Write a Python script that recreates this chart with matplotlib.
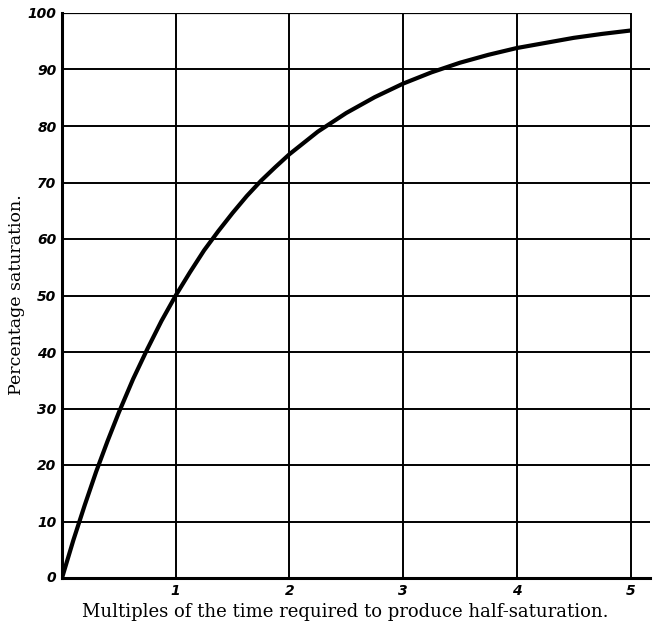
# Кривая насыщения
import matplotlib.pyplot as plt

# значения
x = [0, 0.1, 0.2, 0.3, 0.4, 0.5, 0.625, 0.75, 0.875, 1, 1.125, 1.25, 1.375, 1.5, 1.625, 1.75,
     1.875, 2, 2.25, 2.5, 2.75, 3, 3.25, 3.5, 3.75, 4, 4.25, 4.5, 4.75, 5]
y = [0, 6.7, 12.9, 18.8, 24.2, 29.3, 35.2, 40.5, 45.5, 50, 54.1, 58, 61.4, 64.6, 67.6, 70.3,
     72.7, 75, 79, 82.3, 85.1, 87.5, 89.5, 91.2, 92.6, 93.8, 94.7, 95.6, 96.3, 96.9]
xticks = [1, 2, 3, 4, 5]
yticks = [0, 10, 20, 30, 40, 50, 60, 70, 80, 90, 100]

fig = plt.figure(figsize=(6.53, 6.29), dpi=100)
ax = fig.add_axes([62/653, 51/629, 588/653, 565/629])
ax.set_xlim(0, 588/113.7)
ax.set_ylim(0, 100)

# сетка
for v in yticks[1:-1]:
    ax.axhline(v, color='black', lw=1.4, zorder=1)
ax.hlines(100, 0, 5, color='black', lw=1.6, zorder=1)
for v in xticks:
    ax.vlines(v, 0, 100, color='black', lw=1.4, zorder=1)

ax.plot(x, y, color='black', lw=3, solid_capstyle='butt', solid_joinstyle='round', zorder=3)

for s in ['top', 'right']:
    ax.spines[s].set_visible(False)
ax.spines['left'].set_linewidth(2.2)
ax.spines['bottom'].set_linewidth(2.2)

ax.set_xticks(xticks)
ax.set_yticks(yticks)
ax.tick_params(length=0, pad=4)
tf = dict(family='DejaVu Sans', weight='bold', style='italic', size=10)
ax.set_xticklabels([str(t) for t in xticks], **tf)
# ноль в углу
ax.set_yticklabels([''] + [str(t) for t in yticks[1:]], **tf)
ax.text(-0.05, 0, '0', ha='right', va='center', **tf)

fig.text(345/653, 1 - 612/629, 'Multiples of the time required to produce half-saturation.',
         family='DejaVu Serif', size=13, ha='center', va='center')
fig.text(17/653, 1 - 295/629, 'Percentage saturation.', family='DejaVu Serif', size=12.5,
         rotation=90, ha='center', va='center')

plt.savefig('out.png', dpi=100)
